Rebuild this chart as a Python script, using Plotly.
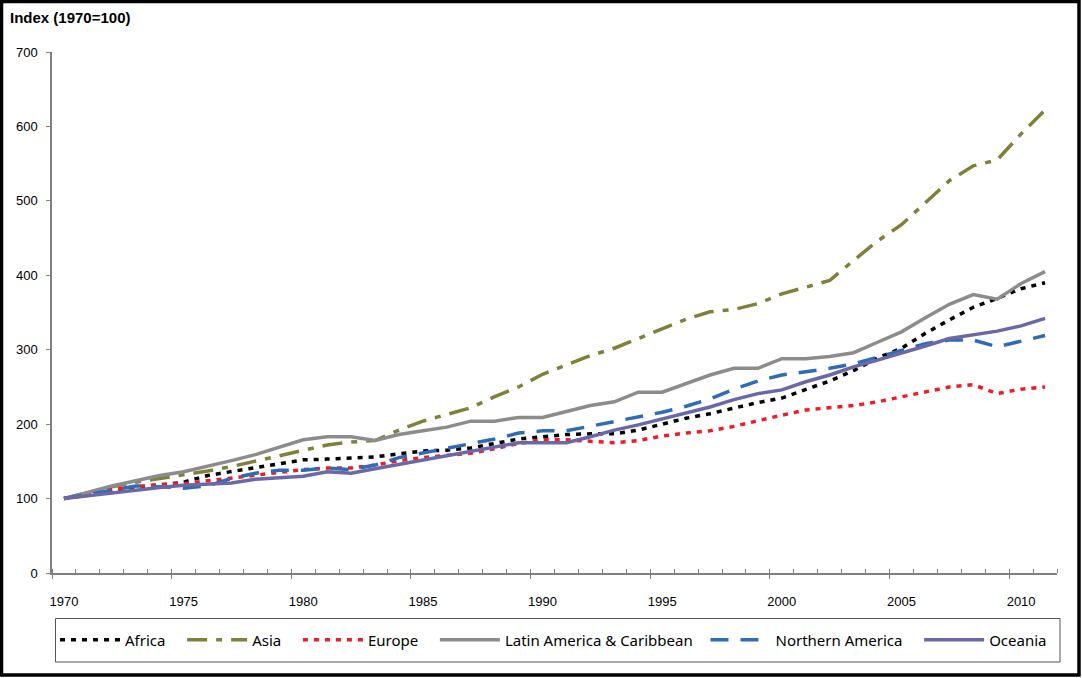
import plotly.graph_objects as go

years = list(range(1970, 2012))

africa = [100, 105, 110, 114, 118, 122, 131, 136, 141, 147, 152, 153, 155, 156, 160, 164, 165, 168, 174, 180,
          183, 186, 187, 187, 192, 200, 208, 214, 222, 229, 235, 246, 258, 272, 289, 302, 322, 340, 357, 369,
          382, 390]
asia = [100, 108, 116, 122, 127, 131, 137, 143, 150, 158, 164, 172, 176, 178, 192, 204, 213, 222, 237, 250,
        267, 280, 292, 302, 315, 328, 341, 351, 354, 362, 375, 384, 393, 420, 446, 468, 497, 527, 547, 555,
        590, 622]
europe = [100, 106, 112, 116, 119, 120, 124, 128, 132, 136, 139, 141, 141, 145, 151, 155, 158, 161, 167, 174,
          179, 179, 177, 175, 178, 184, 188, 191, 197, 205, 212, 219, 222, 225, 230, 237, 244, 250, 253, 241,
          247, 250]
latin = [100, 109, 117, 124, 131, 136, 143, 151, 159, 169, 179, 183, 183, 178, 186, 191, 196, 204, 204, 209,
         209, 217, 225, 230, 243, 243, 254, 266, 275, 275, 288, 288, 291, 296, 310, 324, 343, 361, 374, 368,
         389, 405]
n_america = [100, 106, 112, 117, 116, 114, 117, 127, 134, 138, 138, 141, 139, 145, 155, 161, 167, 173, 180, 188,
             191, 191, 197, 203, 210, 216, 224, 234, 247, 258, 266, 270, 275, 281, 290, 300, 308, 313, 313, 304,
             311, 319]
oceania = [100, 104, 107, 112, 115, 118, 120, 121, 126, 128, 130, 136, 134, 140, 146, 152, 158, 164, 170, 175,
           175, 175, 183, 192, 199, 207, 215, 223, 233, 241, 246, 257, 266, 277, 286, 295, 305, 315, 320, 325,
           332, 342]

x_labels = [1970, 1975, 1980, 1985, 1990, 1995, 2000, 2005, 2010]
y_ticks = [0, 100, 200, 300, 400, 500, 600, 700]

W, H = 1082, 678
ML, MR, MT, MB = 52, 25, 52, 105
PW, PH = W - ML - MR, H - MT - MB


def px_x(p):
    return (p - ML) / PW


def px_y(p):
    return (H - MB - p) / PH


NB = "\u00a0"
series = [
    ("Africa" + NB * 3, africa, dict(color="#000000", width=3.5, dash="5px,6px")),
    ("Asia" + NB * 3, asia, dict(color="#80803a", width=3.5, dash="20px,9px,6px,9px")),
    ("Europe" + NB * 3, europe, dict(color="#ee1c25", width=3.5, dash="5px,6px")),
    ("Latin America & Caribbean" + NB * 2, latin, dict(color="#8c8c8c", width=3.5)),
    ("Northern America" + NB * 3, n_america, dict(color="#2e6db5", width=3.5, dash="18px,12px")),
    ("Oceania", oceania, dict(color="#6a68a6", width=3.5)),
]

fig = go.Figure()
for name, vals, line in series:
    fig.add_trace(go.Scatter(x=years, y=vals, name=name, mode="lines", line=line))

gray = "#808080"
fig.update_layout(
    width=W, height=H,
    margin=dict(l=ML, r=MR, t=MT, b=MB),
    paper_bgcolor="white", plot_bgcolor="white",
    font=dict(family="Liberation Sans, Arial", size=13, color="#000"),
    xaxis=dict(
        range=[1969.5, 2011.5], tickvals=x_labels, ticks="", showgrid=False, zeroline=False,
        showline=True, linecolor=gray, linewidth=1.5, ticklabelstandoff=16,
        minor=dict(tickvals=[1969.5 + i for i in range(43)], ticks="inside", ticklen=4,
                   tickcolor=gray, showgrid=False),
    ),
    xaxis2=dict(
        overlaying="x", anchor="y", side="bottom", range=[1969.5, 2011.5],
        tickvals=[1969.5 + 5 * i for i in range(9)], ticks="outside", ticklen=5, tickcolor=gray,
        showticklabels=False, showgrid=False, zeroline=False, showline=False,
    ),
    yaxis=dict(
        range=[0, 700], tickvals=y_ticks, ticks="outside", ticklen=4, tickcolor=gray,
        showgrid=False, zeroline=False, showline=True, linecolor=gray, linewidth=1.5,
        ticklabelstandoff=6,
    ),
    legend=dict(
        orientation="h", x=px_x(55), xanchor="left", y=px_y(640), yanchor="middle",
        borderwidth=0, bgcolor="rgba(0,0,0,0)", font=dict(family="Noto Sans", size=15),
        itemwidth=60, tracegroupgap=0,
    ),
    showlegend=True,
)

fig.add_trace(go.Scatter(x=[None], y=[None], xaxis="x2", showlegend=False, hoverinfo="skip"))

fig.add_annotation(
    text="<b>Index (1970=100)</b>", xref="paper", yref="paper",
    x=px_x(8), y=px_y(18), xanchor="left", yanchor="middle", showarrow=False,
    font=dict(family="Liberation Sans, Arial", size=15, color="#000"),
)

# legend frame
fig.add_shape(
    type="rect", xref="paper", yref="paper",
    x0=px_x(55.5), x1=px_x(1060), y0=px_y(662), y1=px_y(618.5),
    line=dict(color="#555", width=1), fillcolor="rgba(0,0,0,0)", layer="above",
)

# outer frame
fig.add_shape(
    type="rect", xref="paper", yref="paper",
    x0=px_x(1.5), x1=px_x(W - 3), y0=px_y(H - 3), y1=px_y(1.5),
    line=dict(color="#000", width=3.5), fillcolor="rgba(0,0,0,0)", layer="above",
)

fig.write_html("out.html", config={"displayModeBar": False},
               post_script="document.body.style.margin='0';")
